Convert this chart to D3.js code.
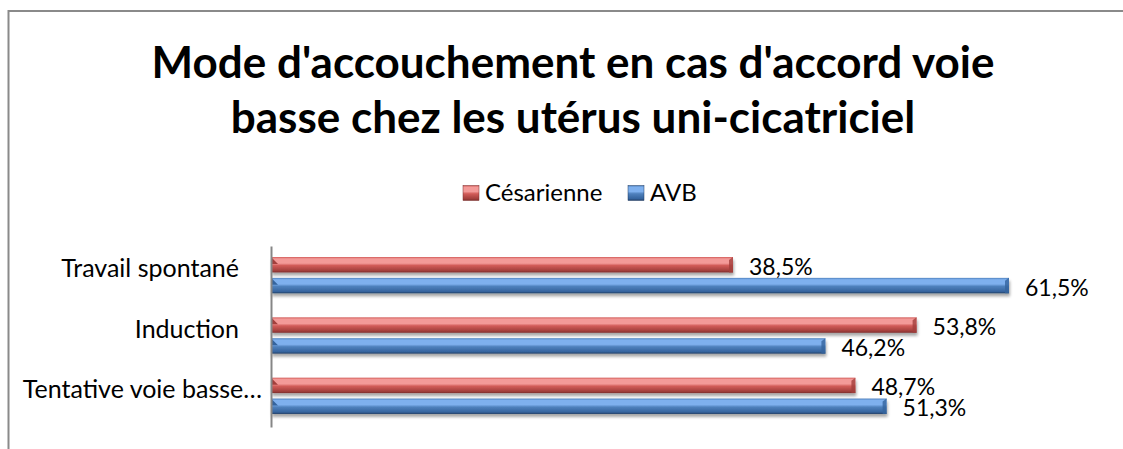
<!DOCTYPE html>
<html>
<head>
<meta charset="utf-8">
<script src="https://cdn.jsdelivr.net/npm/d3@7"></script>
<style>
  body { margin: 0; background: #fff; }
  svg text { font-family: Lato, "Open Sans", sans-serif; fill: #000; }
</style>
</head>
<body>
<div id="graph"></div>
<script>
const categories = ["Travail spontané", "Induction", "Tentative voie basse…"];
const seriesNames = ["Césarienne", "AVB"];
const cesarienne = [38.5, 53.8, 48.7];
const avb = [61.5, 46.2, 51.3];
const titleLines = ["Mode d'accouchement en cas d'accord voie", "basse chez les utérus uni-cicatriciel"];

const svgWidth = 1123;
const svgHeight = 449;

const colors = {
  "Césarienne": { light: "#f39a98", mid: "#d25c59", dark: "#a33f3c", edge: "#7d2e2c" },
  "AVB": { light: "#7eb0ee", mid: "#4f81bd", dark: "#35649e", edge: "#223f66" }
};

const rows = categories.map((c, i) => ({
  cat: c,
  vals: [
    { name: seriesNames[0], v: cesarienne[i] },
    { name: seriesNames[1], v: avb[i] }
  ]
}));

const svg = d3.select("#graph").append("svg").attr("width", svgWidth).attr("height", svgHeight);

// gradients + shadow
const defs = svg.append("defs");
seriesNames.forEach((s, i) => {
  const g = defs.append("linearGradient").attr("id", "grad" + i)
    .attr("x1", 0).attr("y1", 0).attr("x2", 0).attr("y2", 1);
  const c = colors[s];
  g.append("stop").attr("offset", "0%").attr("stop-color", c.mid);
  g.append("stop").attr("offset", "12%").attr("stop-color", c.light);
  g.append("stop").attr("offset", "40%").attr("stop-color", c.light);
  g.append("stop").attr("offset", "55%").attr("stop-color", c.mid);
  g.append("stop").attr("offset", "88%").attr("stop-color", c.dark);
  g.append("stop").attr("offset", "100%").attr("stop-color", c.edge);
});
const f = defs.append("filter").attr("id", "shadow").attr("x", "-5%").attr("y", "-50%").attr("width", "110%").attr("height", "250%");
f.append("feGaussianBlur").attr("in", "SourceAlpha").attr("stdDeviation", 1.8);
f.append("feOffset").attr("dx", 1).attr("dy", 3).attr("result", "off");
f.append("feComponentTransfer").append("feFuncA").attr("type", "linear").attr("slope", 0.35);
const merge = f.append("feMerge");
merge.append("feMergeNode");
merge.append("feMergeNode").attr("in", "SourceGraphic");

// frame
svg.append("path").attr("d", "M8.5,449 V11 H1123").attr("fill", "none")
  .attr("stroke", "#8a8a8a").attr("stroke-width", 2);

// title
svg.append("text").attr("x", 573).attr("y", 78).attr("text-anchor", "middle")
  .style("font-size", "44px").style("font-weight", "bold")
  .selectAll("tspan").data(titleLines).enter().append("tspan")
  .attr("x", 573).attr("dy", (d, i) => i === 0 ? 0 : 55).text(d => d);

// scales
const xScale = d3.scaleLinear().domain([0, 70]).range([271, 1111]);
const yScale = d3.scaleBand().domain(categories).range([246, 427]);
const ySub = d3.scaleBand().domain(seriesNames).range([11, 47.3]).paddingInner(0.26);

// legend
const legend = svg.append("g").attr("transform", "translate(463,193)");
const legendX = [0, 165];
seriesNames.forEach((s, i) => {
  const lg = legend.append("g").attr("transform", "translate(" + legendX[i] + ",0)");
  lg.append("rect").attr("x", 0).attr("y", -7.5).attr("width", 16).attr("height", 15)
    .attr("fill", "url(#grad" + i + ")").attr("stroke", colors[s].edge).attr("stroke-width", 0.5);
  lg.append("text").attr("x", 22).attr("dy", "0.35em").style("font-size", "24px").text(s);
});

// bars
const groups = svg.selectAll("g.cat").data(rows).enter().append("g").attr("class", "cat")
  .attr("transform", d => "translate(0," + yScale(d.cat) + ")");

groups.selectAll("rect.bar").data(d => d.vals).enter().append("rect").attr("class", "bar")
  .attr("x", xScale(0))
  .attr("y", d => ySub(d.name))
  .attr("width", d => xScale(d.v) - xScale(0))
  .attr("height", ySub.bandwidth())
  .attr("fill", (d, i) => "url(#grad" + i + ")")
  .attr("filter", "url(#shadow)");

// bevel at left start and right end
groups.selectAll("path.cap").data(d => d.vals).enter().append("path").attr("class", "cap")
  .attr("d", d => {
    const x1 = xScale(d.v), y0 = ySub(d.name), h = ySub.bandwidth();
    return "M" + (x1 - 4) + "," + (y0 + 3) + " L" + x1 + "," + y0 + " L" + x1 + "," + (y0 + h) + " L" + (x1 - 4) + "," + (y0 + h) + "Z";
  })
  .attr("fill", d => colors[d.name].dark).attr("opacity", 0.8);
groups.selectAll("path.start").data(d => d.vals).enter().append("path").attr("class", "start")
  .attr("d", d => {
    const x0 = xScale(0), y0 = ySub(d.name);
    return "M" + x0 + "," + y0 + " L" + (x0 + 7) + "," + (y0 + 7) + " L" + x0 + "," + (y0 + 7) + "Z";
  })
  .attr("fill", d => colors[d.name].dark);

// value labels
groups.selectAll("text.val").data(d => d.vals).enter().append("text").attr("class", "val")
  .attr("x", d => xScale(d.v) + 16)
  .attr("y", d => ySub(d.name) + ySub.bandwidth() / 2 + 2)
  .attr("dy", "0.35em")
  .style("font-size", "23px")
  .text(d => d.v.toFixed(1).replace(".", ",") + "%");

// y axis
const yAxis = d3.axisLeft(yScale).tickSize(0).tickPadding(9);
const axisG = svg.append("g").attr("transform", "translate(271,0)").call(yAxis);
axisG.select(".domain").attr("stroke", "#868686").attr("stroke-width", 2);
axisG.selectAll(".tick text").style("font-size", "25px").attr("fill", "#000")
  .attr("dy", "0.05em")
  .attr("dx", (d, i) => i < 2 ? -23 : 0);
</script>
</body>
</html>
